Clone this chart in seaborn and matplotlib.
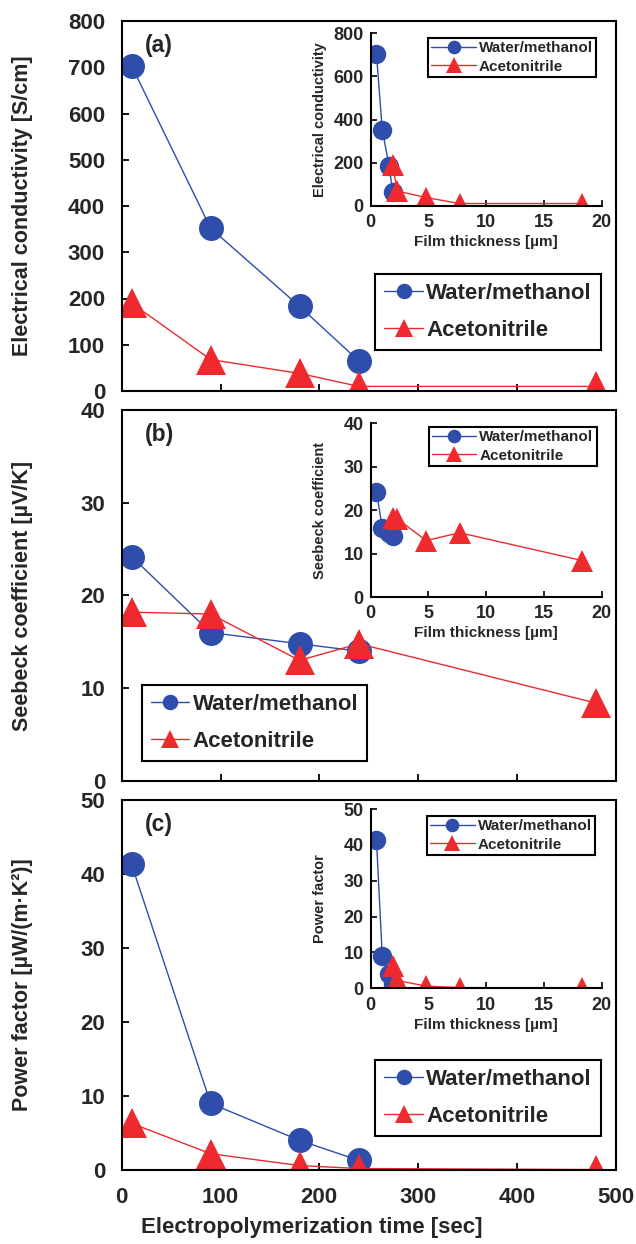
import matplotlib
matplotlib.use('Agg')
import matplotlib.pyplot as plt
import seaborn as sns
import pandas as pd

# ---------------- data ----------------
time_wm = [10, 90, 180, 240]
time_acn = [10, 90, 180, 240, 480]
thick_wm = [0.5, 1.0, 1.6, 1.9]
thick_acn = [1.9, 2.3, 4.8, 7.7, 18.3]
cond_wm = [703, 352, 183, 65]
cond_acn = [190, 68, 38, 10, 10]
seeb_wm = [24.2, 16.0, 14.8, 14.0]
seeb_acn = [18.2, 18.0, 13.0, 14.8, 8.4]
pf_wm = [41.3, 9.0, 4.0, 1.3]
pf_acn = [6.3, 2.2, 0.6, 0.2, 0.06]

series_names = ["Water/methanol", "Acetonitrile"]
panel_tags = ["(a)", "(b)", "(c)"]
main_ylabels = ["Electrical conductivity [S/cm]", "Seebeck coefficient [\u00b5V/K]",
                "Power factor [\u00b5W/(m\u00b7K\u00b2)]"]
inset_ylabels = ["Electrical conductivity", "Seebeck coefficient", "Power factor"]
main_xlabel = "Electropolymerization time [sec]"
inset_xlabel = "Film thickness [\u00b5m]"
ylims = [(0, 800), (0, 40), (0, 50)]
ysteps = [100, 10, 10]
inset_ysteps = [200, 10, 10]

sns.set_theme(style="white")
plt.rcParams['font.family'] = ['Liberation Sans', 'DejaVu Sans']
plt.rcParams['font.weight'] = 'bold'
plt.rcParams['axes.labelweight'] = 'bold'

BLUE = '#2F4DAA'
RED = '#EE2A2F'

W, H = 636, 1244
fig = plt.figure(figsize=(W / 100, H / 100), dpi=100)


def frac(left, top, right, bottom):
    return [left / W, 1 - bottom / H, (right - left) / W, (bottom - top) / H]


main_boxes = [frac(121.7, 21, 615.7, 391), frac(121.7, 410, 615.7, 781), frac(121.7, 800, 615.7, 1170)]
inset_boxes = [frac(370.7, 33.3, 601.7, 205.7), frac(370.7, 423.3, 601.7, 597), frac(370.7, 809, 601.7, 988.3)]
main_leg_anchor = [(0.970, 0.316), None, (0.970, 0.297)]
inset_leg_anchor = [(0.975, 0.973), (0.978, 0.979), (0.97, 0.96)]

main_y = [(cond_wm, cond_acn), (seeb_wm, seeb_acn), (pf_wm, pf_acn)]

leg_kw = dict(prop={'size': 16, 'weight': 'bold'}, frameon=True, fancybox=False,
              edgecolor='black', framealpha=1, markerscale=0.62, handlelength=1.75,
              handletextpad=0.15, labelspacing=0.72, borderpad=0.4, borderaxespad=0)

for i in range(3):
    ax = fig.add_axes(main_boxes[i])
    ywm, yacn = main_y[i]
    df_wm = pd.DataFrame({'t': time_wm, 'v': ywm})
    df_acn = pd.DataFrame({'t': time_acn, 'v': yacn})
    sns.lineplot(data=df_wm, x='t', y='v', ax=ax, color=BLUE, marker='o', markersize=18,
                 markeredgewidth=0, linewidth=1.0, label=series_names[0], sort=False)
    sns.lineplot(data=df_acn, x='t', y='v', ax=ax, color=RED, marker='^', markersize=21,
                 markeredgewidth=0, linewidth=1.0, label=series_names[1], sort=False)
    ax.set_xlim(0, 500)
    ax.set_ylim(*ylims[i])
    ax.set_xticks(range(0, 501, 100))
    ax.set_yticks(range(ylims[i][0], ylims[i][1] + 1, ysteps[i]))
    for sp in ax.spines.values():
        sp.set_visible(True)
        sp.set_color('black')
        sp.set_linewidth(1.5)
    ax.tick_params(direction='in', length=5, width=1.3, color='black', labelsize=16,
                   left=True, bottom=True)
    ax.tick_params(axis='y', pad=12)
    ax.tick_params(axis='x', pad=12)
    for lab in ax.get_yticklabels() + ax.get_xticklabels():
        lab.set_fontweight('bold')
    ax.set_ylabel(main_ylabels[i], fontsize=15.5, fontweight='bold')
    ax.yaxis.set_label_coords(-0.18, 0.5)
    if i < 2:
        ax.set_xticklabels([])
        ax.set_xlabel('')
    else:
        ax.set_xlabel(main_xlabel, fontsize=16, fontweight='bold')
        ax.xaxis.set_label_coords(0.385, -0.128)
    ax.text(0.047, 0.935, panel_tags[i], transform=ax.transAxes, fontsize=16.5,
            fontweight='bold', ha='left', va='center')
    if main_leg_anchor[i] is not None:
        leg = ax.legend(loc='upper right', bbox_to_anchor=main_leg_anchor[i], **leg_kw)
    else:
        leg = ax.legend(loc='upper left', bbox_to_anchor=(0.0405, 0.259), **leg_kw)
    leg.get_frame().set_linewidth(1.5)

    # inset
    ins = fig.add_axes(inset_boxes[i])
    ins.patch.set_alpha(0)
    dfi_wm = pd.DataFrame({'t': thick_wm, 'v': ywm})
    dfi_acn = pd.DataFrame({'t': thick_acn, 'v': yacn})
    sns.lineplot(data=dfi_wm, x='t', y='v', ax=ins, color=BLUE, marker='o', markersize=14,
                 markeredgewidth=0, linewidth=1.0, label=series_names[0], sort=False)
    sns.lineplot(data=dfi_acn, x='t', y='v', ax=ins, color=RED, marker='^', markersize=16,
                 markeredgewidth=0, linewidth=1.0, label=series_names[1], sort=False)
    ins.set_xlim(0, 20)
    ins.set_ylim(*ylims[i])
    ins.set_xticks(range(0, 21, 5))
    ins.set_yticks(range(ylims[i][0], ylims[i][1] + 1, inset_ysteps[i]))
    ins.spines['top'].set_visible(False)
    ins.spines['right'].set_visible(False)
    for s in ['left', 'bottom']:
        ins.spines[s].set_visible(True)
        ins.spines[s].set_color('black')
        ins.spines[s].set_linewidth(1.5)
    ins.tick_params(direction='in', length=4, width=1.2, color='black', labelsize=13,
                    left=True, bottom=True)
    ins.tick_params(axis='y', pad=5)
    ins.tick_params(axis='x', pad=6)
    for lab in ins.get_yticklabels() + ins.get_xticklabels():
        lab.set_fontweight('bold')
    ins.set_ylabel(inset_ylabels[i], fontsize=10.5, fontweight='bold')
    ins.yaxis.set_label_coords(-0.19, 0.5)
    ins.set_xlabel(inset_xlabel, fontsize=11, fontweight='bold', labelpad=3)
    ileg = ins.legend(loc='upper right', bbox_to_anchor=inset_leg_anchor[i],
                      prop={'size': 11, 'weight': 'bold'}, frameon=True, fancybox=False,
                      edgecolor='black', framealpha=1, markerscale=0.7, handlelength=2.9,
                      handletextpad=0.2, labelspacing=0.3, borderpad=0.2, borderaxespad=0)
    ileg.get_frame().set_linewidth(1.5)

fig.savefig('out.png', dpi=100)
